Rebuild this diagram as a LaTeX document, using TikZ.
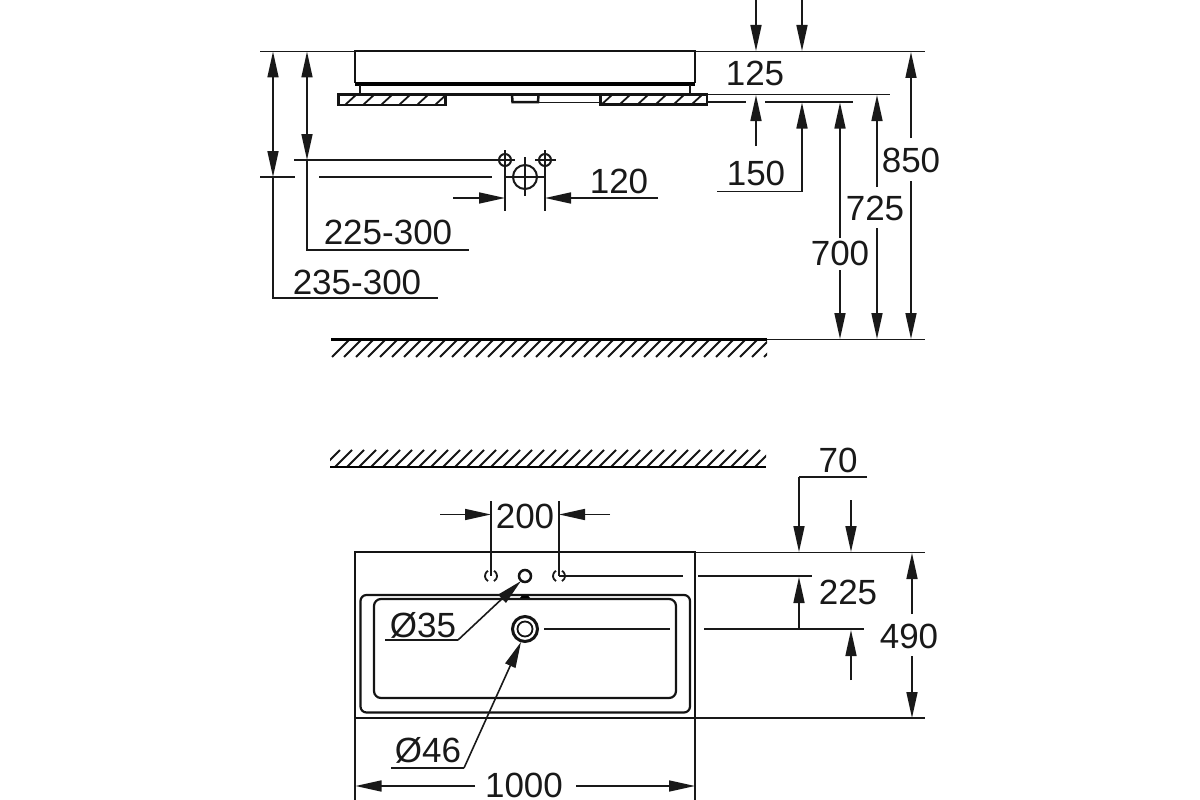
\documentclass[tikz,border=0pt]{standalone}
\usepackage{fontspec}
\setmainfont{Liberation Sans}
\usetikzlibrary{arrows.meta}
\tikzset{
 thin line/.style={line width=1.6pt,black!90},
 thick line/.style={line width=2.5pt,black!92},
 heavy line/.style={line width=3.6pt,black},
 hatch/.style={line width=1.8pt,black!92},
 dim/.style={thin line,-{Triangle[length=26pt,width=11pt]}},
 dimtext/.style={inner sep=0pt,font=\fontsize{35}{35}\selectfont,black!90},
}
\begin{document}
\begin{tikzpicture}[x=1pt,y=-1pt]
\useasboundingbox (0,0) rectangle (1200,800);
% ---- elevation: basin
\draw[thick line] (355,83) -- (355,51) -- (695,51) -- (695,83);
\draw[heavy line] (355,84) -- (695,84);
\draw[thick line] (360,85) -- (360,94);
\draw[thick line] (690,85) -- (690,94);
\draw[thick line] (338,94.5) -- (707,94.5);
\draw[thick line] (338.5,94.5) rectangle (445.5,105);
\draw[thick line] (600.5,94.5) rectangle (707,104.5);
\begin{scope}
\clip (338.5,94.5) rectangle (445.5,105);
\foreach \x in {348,366,384,402,420,438,456} \draw[hatch] (\x-3,105) -- (\x+9,94);
\end{scope}
\begin{scope}
\clip (600.5,94.5) rectangle (707,104.5);
\foreach \x in {604,622,640,658,676,694,712} \draw[hatch] (\x-3,105) -- (\x+9,94);
\end{scope}
\draw[thick line] (512,94.5) -- (512.5,102) -- (538,102) -- (538.5,94.5);
\draw[thin line] (538,102.5) -- (600,102.5);
% extension lines top
\draw[thin line] (260,51.5) -- (355,51.5);
\draw[thin line] (695,51.5) -- (925,51.5);
\draw[thin line] (707,94.5) -- (890,94.5);
\draw[thin line] (707,102) -- (746,102);
\draw[thin line] (765,102) -- (853,102);
\draw[thin line] (260,177) -- (295,177);
\draw[thin line] (319,177) -- (492,177);
\draw[thin line] (294,160) -- (515,160);
% fittings
\draw[thin line,line width=2pt] (505,160) circle (6);
\draw[thin line,line width=2pt] (545,160) circle (6);
\draw[thin line,line width=2pt] (525,177) circle (12);
\draw[thin line] (505,150) -- (505,211);
\draw[thin line] (545,150) -- (545,211);
\draw[thin line] (535,160) -- (556,160);
\draw[thin line] (505,177) -- (545,177);
\draw[thin line] (525,157) -- (525,196);
% left dims
\draw[dim] (273,80) -- (273,51.5);
\draw[dim] (273,150) -- (273,177);
\draw[thin line] (273,80) -- (273,150);
\draw[thin line] (273,177) -- (273,298) -- (438,298);
\draw[dim] (307,80) -- (307,51.5);
\draw[dim] (307,130) -- (307,160);
\draw[thin line] (307,80) -- (307,130);
\draw[thin line] (307,160) -- (307,250) -- (469,250);
\draw[dim] (453,198) -- (505,198);
\draw[dim] (658,198) -- (545,198);
% right dims
\draw[dim] (756,0) -- (756,51);
\draw[dim] (802,0) -- (802,51);
\draw[dim] (756,146) -- (756,95);
\draw[thin line] (717,191.5) -- (802,191.5);
\draw[dim] (802,191.5) -- (802,102.5);
\draw[dim] (840,238) -- (840,102.5);
\draw[dim] (840,270) -- (840,339);
\draw[dim] (877,187) -- (877,95);
\draw[dim] (877,228) -- (877,339);
\draw[dim] (911,138) -- (911,52);
\draw[dim] (911,181) -- (911,339);
% floors
\begin{scope}
\clip (331,339) rectangle (767,358);
\foreach \i in {0,...,37} \draw[hatch] (332+12*\i,357) -- (349+12*\i,340);
\end{scope}
\draw[heavy line,line width=2.8pt] (331,339.5) -- (767,339.5);
\draw[thin line] (767,339.5) -- (925,339.5);
\begin{scope}
\clip (330,449) rectangle (766,467);
\foreach \i in {-1,...,36} \draw[hatch] (335+12*\i,467) -- (352+12*\i,450);
\end{scope}
\draw[heavy line,line width=2.8pt] (330,467) -- (766,467);
% ---- plan
\draw[thick line] (355,552) rectangle (695,718);
\draw[thick line,line width=2.2pt,rounded corners=6pt] (360.5,595) rectangle (690,712.5);
\draw[thick line,line width=2.2pt,rounded corners=7pt] (374,599) rectangle (676,698);
\fill (499,594) -- (510,594) -- (507,598) -- (501,598) -- cycle;
\fill (520,598) -- (522,595.5) -- (528,595.5) -- (530,598) -- cycle;
\draw[thin line,line width=1.8pt] (491,576) ++(-120:6) arc (-120:-240:6);
\draw[thin line,line width=1.8pt] (491,576) ++(-60:6) arc (-60:60:6);
\draw[thin line,line width=1.8pt] (559,576) ++(-120:6) arc (-120:-240:6);
\draw[thin line,line width=1.8pt] (559,576) ++(-60:6) arc (-60:60:6);
\draw[thick line] (525,576) circle (6);
\draw[thick line,line width=3pt] (525,629) circle (12.5);
\draw[thick line,line width=1.8pt] (525,629) circle (7.5);
\draw[thin line] (491,501) -- (491,576);
\draw[thin line] (559,501) -- (559,576);
\draw[thin line] (559,576) -- (683,576);
\draw[thin line] (698,576) -- (812,576);
\draw[thin line] (544,629) -- (670,629);
\draw[thin line] (704,629) -- (864,629);
\draw[thin line] (695,552.5) -- (925,552.5);
\draw[thin line] (695,718) -- (925,718);
\draw[dim] (440,514.5) -- (491,514.5);
\draw[dim] (610,514.5) -- (559,514.5);
\draw[thin line] (867,477) -- (799,477);
\draw[dim] (799,477) -- (799,552);
\draw[dim] (851,500) -- (851,552);
\draw[dim] (799,629) -- (799,577);
\draw[dim] (851,680) -- (851,630);
\draw[dim] (912,614) -- (912,553);
\draw[dim] (912,656) -- (912,718);
\draw[thin line] (385,640) -- (458,640);
\draw[dim] (458,640) -- (521,581);
\draw[thin line] (391,768) -- (464,768);
\draw[dim] (464,768) -- (521,642);
\draw[thin line] (355,718) -- (355,800);
\draw[thin line] (695,718) -- (695,800);
\draw[dim] (475,786) -- (355.5,786);
\draw[dim] (576,786) -- (695,786);
% texts
\node[dimtext] (t125) at (755,73) {125};
\node[dimtext] (t150) at (756,173) {150};
\node[dimtext] (t120) at (619,181) {120};
\node[dimtext] (t850) at (911,160) {850};
\node[dimtext] (t725) at (875,208) {725};
\node[dimtext] (t700) at (840,253) {700};
\node[dimtext] (t225a) at (388,232) {225-300};
\node[dimtext] (t235) at (357,282) {235-300};
\node[dimtext] (t200) at (525,516) {200};
\node[dimtext] (t70) at (838,460) {70};
\node[dimtext] (t225b) at (848,592) {225};
\node[dimtext] (t490) at (909,636) {490};
\node[dimtext] (t35) at (423,625) {Ø35};
\node[dimtext] (t46) at (428,750) {Ø46};
\node[dimtext] (t1000) at (524,785) {1000};
\end{tikzpicture}
\end{document}
